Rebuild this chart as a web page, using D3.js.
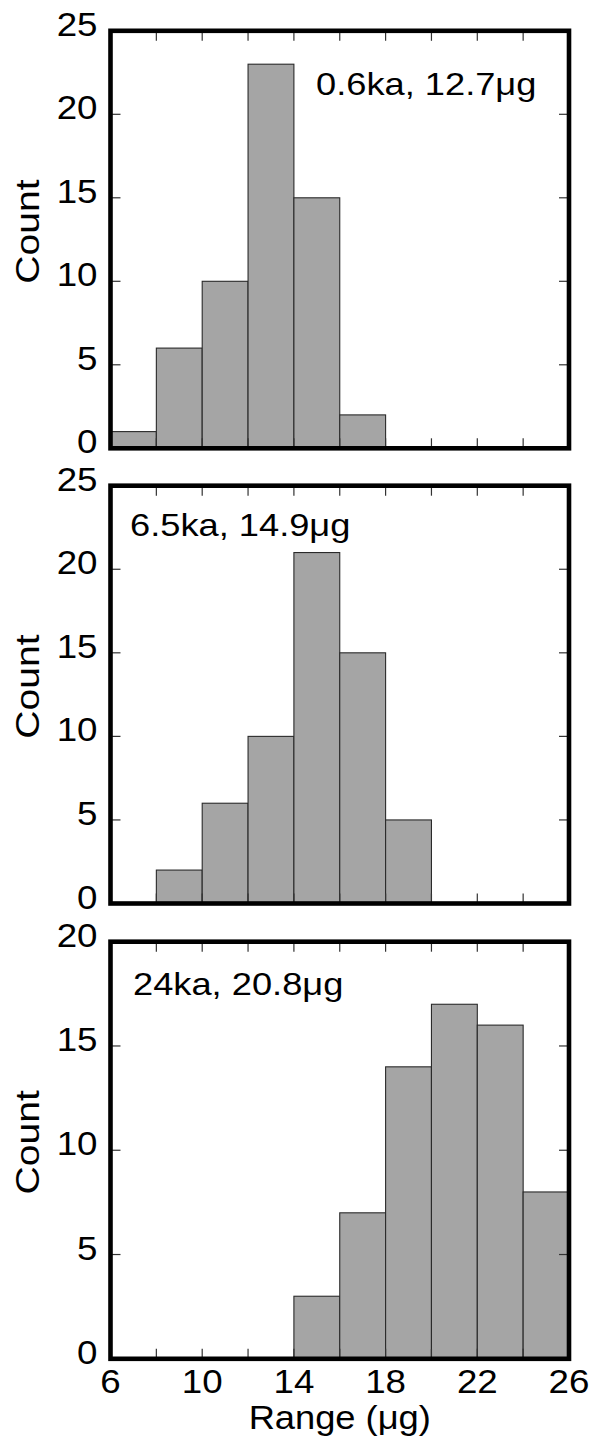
<!DOCTYPE html>
<html><head><meta charset="utf-8">
<script src="https://cdn.jsdelivr.net/npm/d3@7"></script>
<style>html,body{margin:0;padding:0;background:#fff;}svg{display:block;}</style>
</head><body>
<script>
// ---- data ----
const binEdges = [6, 8, 10, 12, 14, 16, 18, 20, 22, 24, 26];
const counts1 = [1, 6, 10, 23, 15, 2, 0, 0, 0, 0];
const counts2 = [0, 2, 6, 10, 21, 15, 5, 0, 0, 0];
const counts3 = [0, 0, 0, 0, 3, 7, 14, 17, 16, 8];
const labels = ["0.6ka, 12.7μg", "6.5ka, 14.9μg", "24ka, 20.8μg"];
const yMaxes = [25, 25, 20];
const yTicks12 = [0, 5, 10, 15, 20, 25];
const yTicks3 = [0, 5, 10, 15, 20];
const xTickLabels = [6, 10, 14, 18, 22, 26];
const xMinorTicks = [6, 8, 10, 12, 14, 16, 18, 20, 22, 24, 26];
const yLabel = "Count";
const xLabel = "Range (μg)";

const W = 593, H = 1440;
const svg = d3.select("body").append("svg").attr("width", W).attr("height", H);
const FONT = "'Liberation Sans', Arial, Helvetica, sans-serif";

const left = 110.5, right = 569;
const panels = [
  {top: 30.8, bottom: 448.3, data: counts1, ymax: yMaxes[0], ticks: yTicks12, label: labels[0], lx: 316, ly: 95},
  {top: 485.7, bottom: 903.5, data: counts2, ymax: yMaxes[1], ticks: yTicks12, label: labels[1], lx: 130, ly: 536},
  {top: 941.7, bottom: 1358.8, data: counts3, ymax: yMaxes[2], ticks: yTicks3, label: labels[2], lx: 133, ly: 995}
];

const x = d3.scaleLinear().domain([6, 26]).range([left, right]);

function stretchedText(g, txt, tx, ty, size, anchor, rot, sx) {
  return g.append("text")
    .attr("transform", `translate(${tx},${ty})` + (rot ? ` rotate(${rot})` : "") + ` scale(${sx},1)`)
    .attr("text-anchor", anchor)
    .attr("font-family", FONT)
    .attr("font-size", size)
    .attr("fill", "#000")
    .text(txt);
}

panels.forEach((p, i) => {
  const y = d3.scaleLinear().domain([0, p.ymax]).range([p.bottom, p.top]);
  const g = svg.append("g");
  const bins = p.data.map((c, k) => ({x0: binEdges[k], x1: binEdges[k + 1], c}));

  g.selectAll("rect.bar").data(bins.filter(d => d.c > 0)).join("rect")
    .attr("class", "bar")
    .attr("x", d => x(d.x0))
    .attr("width", d => x(d.x1) - x(d.x0))
    .attr("y", d => y(d.c))
    .attr("height", d => y(0) - y(d.c))
    .attr("fill", "#a5a5a5")
    .attr("stroke", "#2a2a2a")
    .attr("stroke-width", 1.1);

  const tickLen = 10;
  const tc = "#333";
  xMinorTicks.filter(v => v > 6 && v < 26).forEach(v => {
    g.append("line").attr("x1", x(v)).attr("x2", x(v)).attr("y1", p.bottom).attr("y2", p.bottom - tickLen).attr("stroke", tc).attr("stroke-width", 1.2);
    g.append("line").attr("x1", x(v)).attr("x2", x(v)).attr("y1", p.top).attr("y2", p.top + tickLen).attr("stroke", tc).attr("stroke-width", 1.2);
  });
  p.ticks.filter(v => v > 0 && v < p.ymax).forEach(v => {
    g.append("line").attr("x1", left).attr("x2", left + tickLen).attr("y1", y(v)).attr("y2", y(v)).attr("stroke", tc).attr("stroke-width", 1.2);
    g.append("line").attr("x1", right).attr("x2", right - tickLen).attr("y1", y(v)).attr("y2", y(v)).attr("stroke", tc).attr("stroke-width", 1.2);
  });

  g.append("rect").attr("x", left).attr("y", p.top)
    .attr("width", right - left).attr("height", p.bottom - p.top)
    .attr("fill", "none").attr("stroke", "#000").attr("stroke-width", 4.6);

  p.ticks.forEach(v => {
    stretchedText(g, String(v), 97.5, y(v) + 5, 34, "end", 0, 1.08);
  });

  stretchedText(g, yLabel, 38.5, (p.top + p.bottom) / 2 - 8, 34, "middle", -90, 1.15);

  stretchedText(g, p.label, p.lx, p.ly, 31, "start", 0, 1.17);

  if (i === 2) {
    xTickLabels.forEach(v => {
      stretchedText(g, String(v), x(v), 1393, 34, "middle", 0, 1.08);
    });
    stretchedText(g, xLabel, x(16), 1429, 33, "middle", 0, 1.1);
  }
});
</script>
</body></html>
